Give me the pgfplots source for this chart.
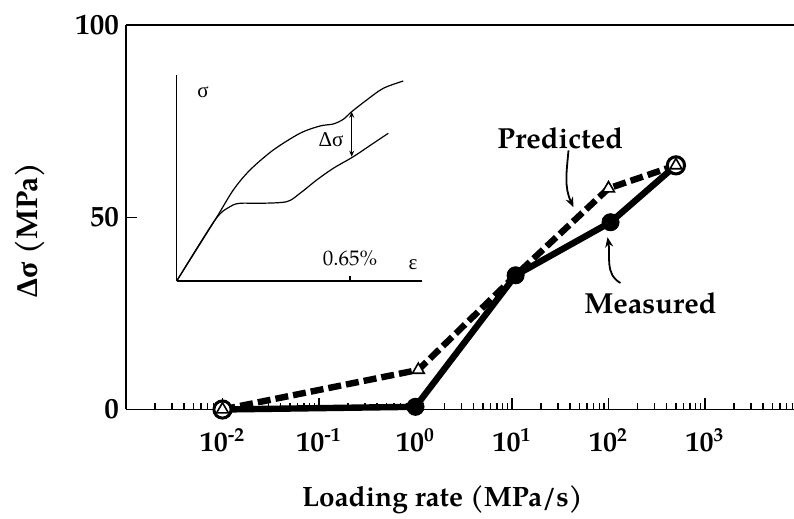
\documentclass[border=0pt]{standalone}
\usepackage{fontspec}
\setmainfont{texgyrepagella}[Extension=.otf, UprightFont=*-regular, BoldFont=*-bold, ItalicFont=*-italic, BoldItalicFont=*-bolditalic]
\newfontfamily\gr{Liberation Serif}
\usepackage{pgfplots}
\usepackage{pgfplotstable}
\pgfplotsset{compat=1.18}
\usetikzlibrary{arrows.meta}

% main data: loading rate (MPa/s) vs delta sigma (MPa)
\pgfplotstableread{
x y
0.01 0
1.07 10.3
10.9 34.9
100 57.5
500 63.5
}\predicted
\pgfplotstableread{
x y
0.01 0
1.0 0.7
10.9 34.9
105 48.7
500 63.5
}\measured

% inset sketch (arbitrary units)
\pgfplotstableread{
u v
0 0
38.3 61
56.6 91
73.3 111
96.6 131
123.3 147.7
143.3 155
156.6 157
166.6 161.7
175 169.3
190 181
206.6 192.7
226.6 200
}\uppercurve
\pgfplotstableread{
u v
0 0
38.3 61
53.3 74.3
63.3 77.7
83.3 77.7
110 79.3
123.3 87.7
140 101
156.6 112.7
176.6 124.3
196.6 137.7
211.6 147.7
}\lowercurve

\begin{document}
\begin{tikzpicture}
\path[use as bounding box] (-63pt,-54.75pt) rectangle (334pt,204.75pt);
\begin{axis}[
  scale only axis, width=334pt, height=192.25pt,
  xmode=log, xmin=0.001, xmax=8360, ymin=0, ymax=100,
  axis lines*=left, axis line style={line width=0.75pt},
  clip=false,
  xtick={0.001,0.01,0.1,1,10,100,1000},
  xticklabels={,10\textsuperscript{-2},10\textsuperscript{-1},10\textsuperscript{0},10\textsuperscript{1},10\textsuperscript{2},10\textsuperscript{3}},
  minor xtick={0.002,0.003,0.004,0.005,0.006,0.007,0.008,0.009,
    0.02,0.03,0.04,0.05,0.06,0.07,0.08,0.09,
    0.2,0.3,0.4,0.5,0.6,0.7,0.8,0.9,
    2,3,4,5,6,7,8,9,
    20,30,40,50,60,70,80,90,
    200,300,400,500,600,700,800,900,
    2000,3000,4000,5000,6000,7000,8000},
  ytick={0,50,100}, yticklabels={0,50,100},
  tick align=inside, major tick length=5.5pt, minor tick length=3pt,
  tick style={line width=0.6pt, black},
  yticklabel style={font=\bfseries\fontsize{14.5}{16}\selectfont},
  xticklabel style={font=\bfseries\fontsize{14}{16}\selectfont, anchor=center, yshift=-15.4pt},
  xlabel={\bfseries Loading rate (MPa/s)},
  xlabel style={font=\fontsize{14}{16}\selectfont, at={(axis description cs:0.253,-0.2354)}, anchor=west},
  ylabel={\bfseries{\gr Δσ} (MPa)},
  ylabel style={font=\fontsize{15}{17}\selectfont, at={(axis description cs:-0.1437,0.467)}, anchor=center},
]
\draw[line width=0.75pt] (rel axis cs:0,1) -- (rel axis cs:1,1);
\addplot[black, line width=3.2pt, dash pattern=on 6.5pt off 2.5pt] table[x=x,y=y] {\predicted};
\addplot[black, line width=3.2pt] table[x=x,y=y] {\measured};
\addplot[only marks, mark=*, mark size=4.3pt, black] table[x=x,y=y] {\measured};
\addplot[only marks, mark=*, mark size=4.3pt, mark options={fill=white, draw=black, line width=1.5pt},
  skip coords between index={1}{4}] table[x=x,y=y] {\measured};
\addplot[only marks, mark=triangle*, mark size=3.4pt, mark options={fill=white, draw=black, line width=0.8pt},
  skip coords between index={2}{3}] table[x=x,y=y] {\predicted};
\node[font=\bfseries\fontsize{14.5}{16}\selectfont] at (axis cs:31.6,70.5) {Predicted};
\node[font=\bfseries\fontsize{14.5}{16}\selectfont] at (axis cs:272,27.7) {Measured};
\draw[-{Stealth[length=5pt,width=4pt]}, line width=0.9pt] (axis cs:38.5,67.4) to[out=-95,in=115] (axis cs:43.4,52.6);
\draw[-{Stealth[length=5pt,width=4pt]}, line width=0.9pt] (axis cs:133,32.9) to[out=150,in=-80] (axis cs:97.7,44.8);
\end{axis}

\begin{axis}[
  at={(25.35pt,64.25pt)}, anchor=south west,
  scale only axis, width=122.5pt, height=103pt,
  xmin=0, xmax=245, ymin=0, ymax=206,
  axis lines*=left, axis line style={line width=0.6pt},
  xtick={173.3}, xticklabels={}, ytick=\empty,
  tick align=inside, major tick length=2.5pt, tick style={line width=0.6pt, black},
  clip=false,
]
\addplot[black, line width=0.6pt, smooth] table[x=u,y=v] {\uppercurve};
\addplot[black, line width=0.6pt, smooth] table[x=u,y=v] {\lowercurve};
\draw[{Stealth[length=3pt,width=2.5pt]}-{Stealth[length=3pt,width=2.5pt]}, line width=0.5pt] (axis cs:175,124.3) -- (axis cs:175,169.3);
\node[font=\fontsize{10.5}{12}\selectfont] at (axis cs:154.3,141) {{\gr Δσ}};
\node[font=\fontsize{10.5}{12}\selectfont] at (axis cs:26.3,189) {{\gr σ}};
\node[font=\fontsize{10.5}{12}\selectfont] at (axis cs:236.3,16) {{\gr ε}};
\node[font=\fontsize{10.5}{12}\selectfont] at (axis cs:173.3,23) {0.65\%};
\end{axis}
\end{tikzpicture}
\end{document}
